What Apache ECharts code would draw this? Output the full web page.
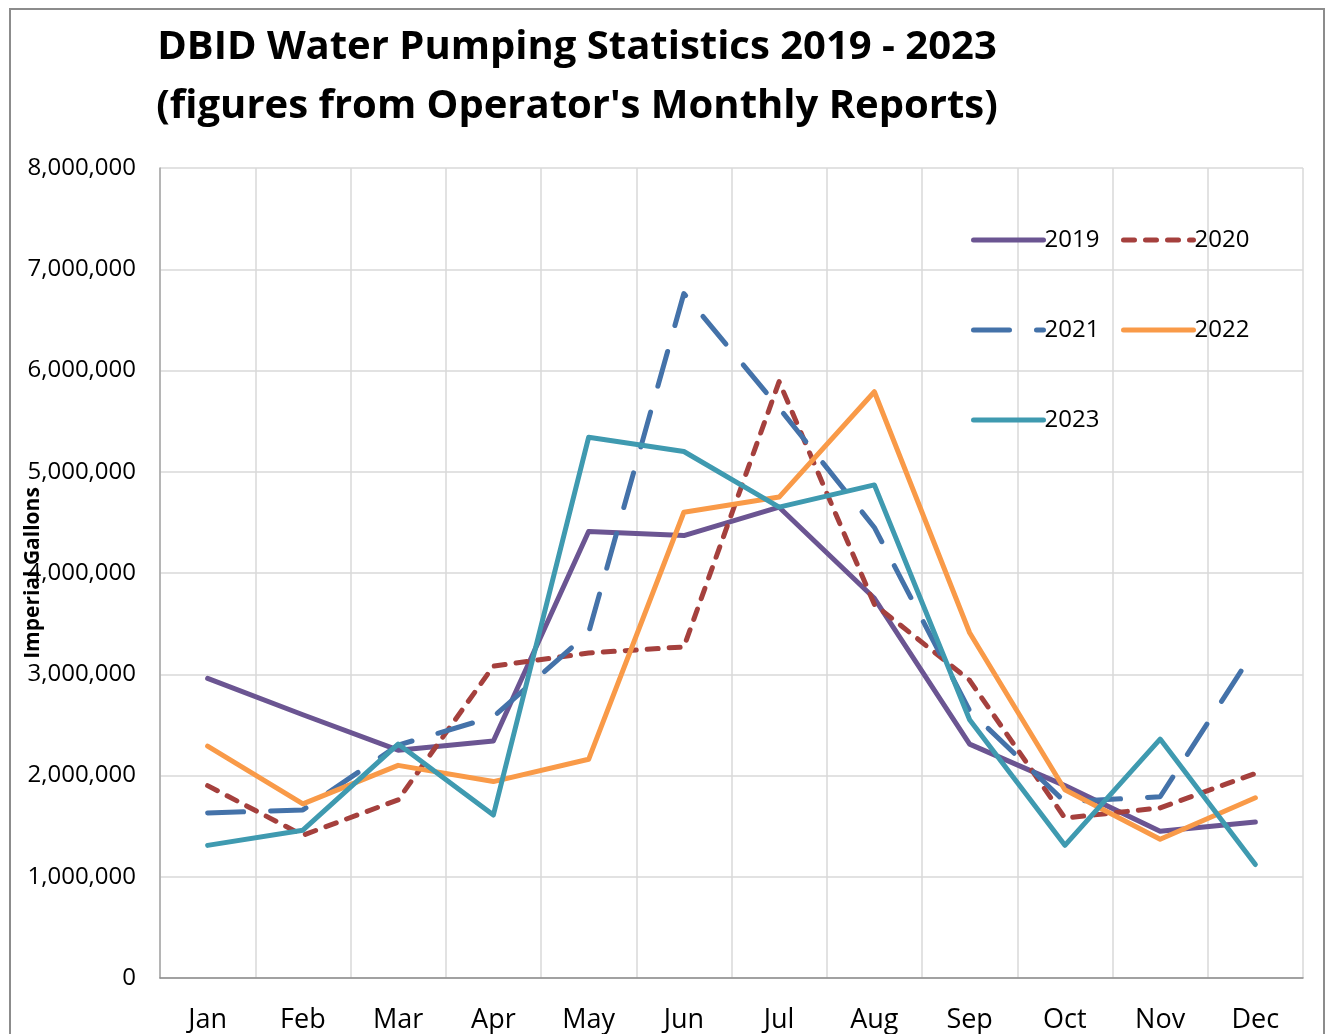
<!DOCTYPE html>
<html>
<head>
<meta charset="utf-8">
<script src="https://cdn.jsdelivr.net/npm/echarts@6/dist/echarts.min.js"></script>
<style>
	html,body{margin:0;padding:0;background:#fff;}
	#main{width:1329px;height:1034px;}
	#frame{position:absolute;left:9px;top:8px;width:1316px;height:1040px;border:2px solid #8c8c8c;box-sizing:border-box;pointer-events:none;}
</style>
</head>
<body>
<div id="main"></div>
<div id="frame"></div>
<script type="text/javascript">
const months=['Jan','Feb','Mar','Apr','May','Jun','Jul','Aug','Sep','Oct','Nov','Dec'];
const y2019=[2960000,2600000,2250000,2340000,4410000,4370000,4650000,3750000,2310000,1900000,1450000,1540000];
const y2020=[1900000,1410000,1760000,3080000,3210000,3270000,5890000,3690000,2940000,1580000,1680000,2020000];
const y2021=[1630000,1660000,2300000,2580000,3410000,6760000,5630000,4450000,2640000,1740000,1790000,3250000];
const y2022=[2290000,1720000,2100000,1940000,2160000,4600000,4750000,5790000,3410000,1860000,1370000,1780000];
const y2023=[1310000,1460000,2310000,1610000,5340000,5200000,4650000,4870000,2550000,1310000,2360000,1120000];

const font='"Open Sans", "Liberation Sans", sans-serif';
function line(name,data,color,type){
	return {
		name:name,type:'line',data:data,symbol:'none',
		lineStyle:{color:color,width:5,type:type||'solid',cap:'round',join:'round'},
		itemStyle:{color:color}
	};
}
function legendCol(names,left){
	return {
		data:names,orient:'vertical',left:left,top:223,itemWidth:70,itemHeight:18,itemGap:66,
		itemStyle:{color:'transparent',borderColor:'transparent',borderWidth:0,opacity:0},
		lineStyle:{width:5},
		textStyle:{fontFamily:font,fontSize:24,color:'#000',padding:[0,0,0,-4]}
	};
}
var myChart=echarts.init(document.getElementById('main'),null,{width:1329,height:1034});
var option={
	animation:false,
	backgroundColor:'#ffffff',
	title:{
		text:"DBID Water Pumping Statistics 2019 - 2023\n(figures from Operator's Monthly Reports)",
		left:572,top:13,textAlign:'center',
		textStyle:{fontFamily:font,fontWeight:'bold',fontSize:40,lineHeight:59,color:'#000'}
	},
	legend:[legendCol(['2019','2021','2023'],966),legendCol(['2020','2022'],1116)],
	grid:{left:160,top:168,right:26,bottom:56,containLabel:false,outerBoundsMode:'none'},
	xAxis:{
		type:'category',data:months,boundaryGap:true,
		axisLine:{lineStyle:{color:'#8c8c8c',width:1.5}},
		axisTick:{show:false},
		axisLabel:{fontFamily:font,fontSize:27,color:'#000',margin:29,interval:0},
		splitLine:{show:true,interval:0,lineStyle:{color:'#d9d9d9',width:1.5}}
	},
	yAxis:{
		type:'value',min:0,max:8000000,interval:1000000,
		name:'Imperial Gallons',nameLocation:'middle',nameGap:116,nameRotate:90,nameMoveOverlap:false,
		nameTextStyle:{fontFamily:font,fontWeight:'bold',fontSize:21,color:'#000'},
		axisLine:{show:true,lineStyle:{color:'#a6a6a6',width:1.5}},
		axisTick:{show:false},
		axisLabel:{fontFamily:font,fontSize:24,color:'#000',margin:24,
			formatter:function(v){return v.toLocaleString('en-US');}},
		splitLine:{lineStyle:{color:'#d9d9d9',width:1.5}}
	},
	series:[
		line('2019',y2019,'#6b5592'),
		line('2020',y2020,'#a5403d',[11,11]),
		line('2021',y2021,'#4472a9',[36,27]),
		line('2022',y2022,'#f99a48'),
		line('2023',y2023,'#3f9ab0')
	]
};
myChart.setOption(option);
</script>
</body>
</html>
